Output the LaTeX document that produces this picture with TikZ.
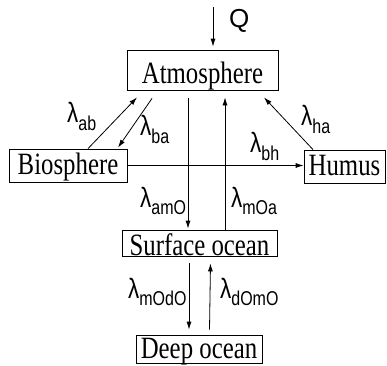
\documentclass[tikz,border=0pt]{standalone}
\usepackage{fontspec}
\setmainfont{Liberation Serif}
\newfontfamily\lsans{Liberation Sans}
\usetikzlibrary{arrows.meta}
\newcommand\boxtxt[1]{\scalebox{0.8}[1]{\fontsize{31}{31}\selectfont #1}}
\newcommand\lamlab[2]{\scalebox{0.8}[1]{\lsans{\fontsize{28}{28}\selectfont λ}\raisebox{-#2pt}{\fontsize{20}{20}\selectfont #1}}}
\begin{document}
\begin{tikzpicture}[x=1pt,y=-1pt,
  compartment/.style={draw, line width=0.8pt, inner sep=0pt},
  flow/.style={line width=0.8pt, -{Latex[length=8pt,width=5pt]}},
  lab/.style={anchor=base west, inner sep=0pt}]
\useasboundingbox (0,0) rectangle (387,365);
\node[compartment, minimum width=151pt, text height=33pt, text depth=7pt] (atm) at (202.5,70) {\boxtxt{Atmosphere}};
\node[compartment, minimum width=118pt, text height=25pt, text depth=8pt] (bio) at (68,165.5) {\boxtxt{Biosphere}};
\node[compartment, minimum width=81pt, text height=25pt, text depth=8pt] (hum) at (344.5,166.5) {\boxtxt{Humus}};
\node[compartment, minimum width=155pt, text height=25pt, text depth=1pt] (surf) at (199.5,243) {\boxtxt{Surface ocean}};
\node[compartment, minimum width=126pt, text height=23pt, text depth=5pt] (deep) at (199,349) {\boxtxt{Deep ocean}};
\coordinate (qin) at (213,7);
\draw[flow] (qin) -- ([xshift=10.5pt,yshift=3pt]atm.north);
\node[lab] (q) at (229,27) {\lsans\fontsize{26}{26}\selectfont Q};
% biosphere <-> atmosphere
\draw[flow] ([xshift=20pt]bio.north) -- ([xshift=-65.5pt,yshift=-7pt]atm.south);
\draw[flow] ([xshift=-50.5pt,yshift=-8pt]atm.south) -- ([xshift=50pt,yshift=1pt]bio.north);
% atmosphere <-> surface ocean
\draw[flow] ([xshift=-14.5pt,yshift=-8pt]atm.south) -- ([xshift=-11.5pt,yshift=1pt]surf.north);
\draw[flow] ([xshift=25.5pt]surf.north) -- ([xshift=22.5pt,yshift=-7pt]atm.south);
% humus -> atmosphere
\draw[flow] ([xshift=-31.5pt]hum.north) -- ([xshift=61.5pt,yshift=-7pt]atm.south);
% biosphere -> humus
\draw[flow] (bio.east) -- (bio.east -| hum.west);
% surface <-> deep
\draw[flow] ([xshift=-10.5pt,yshift=-7pt]surf.south) -- ([xshift=-10pt,yshift=5pt]deep.north);
\draw[flow] ([xshift=10.5pt,yshift=5pt]deep.north) -- ([xshift=11pt,yshift=-7pt]surf.south);
% labels
\node[lab] (lab) at (67,122) {\lamlab{ab}{8}};
\node[lab] (lba) at (140,135) {\lamlab{ba}{8}};
\node[lab] (lha) at (301,125) {\lamlab{ha}{8}};
\node[lab] (lbh) at (250,152) {\lamlab{bh}{8}};
\node[lab] (lamo) at (140,207) {\lamlab{amO}{7}};
\node[lab] (lmoa) at (231,207) {\lamlab{mOa}{7}};
\node[lab] (lmodo) at (128,298) {\lamlab{mOdO}{7}};
\node[lab] (ldomo) at (220,298) {\lamlab{dOmO}{7}};
\end{tikzpicture}
\end{document}
